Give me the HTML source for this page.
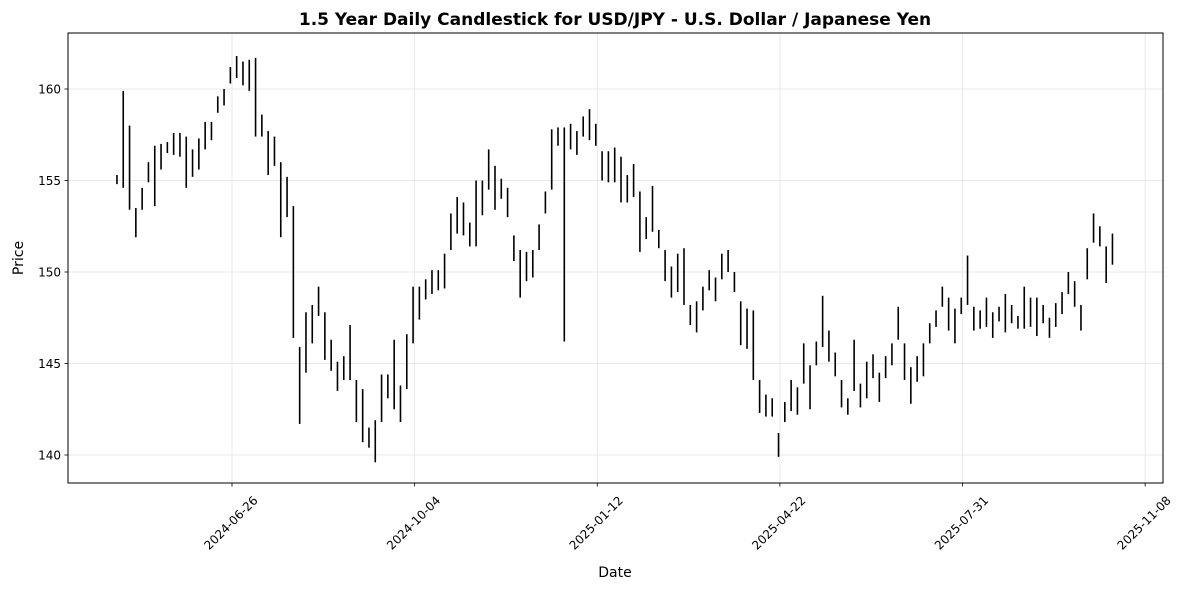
<!DOCTYPE html>
<html><head><meta charset="utf-8"><style>
body{margin:0;background:#fff;font-family:"Liberation Sans","DejaVu Sans",sans-serif}
svg text{font-family:"DejaVu Sans","Liberation Sans",sans-serif}
</style></head><body>
<svg id="chart" width="1187" height="590" viewBox="0 0 1187 590" xmlns="http://www.w3.org/2000/svg">
<rect width="1187" height="590" fill="#fff"/>
<g id="grid"></g>
<g id="candles"></g>
<rect x="68" y="33" width="1095" height="450" fill="none" stroke="#000" stroke-width="1"/>
<g id="axes"></g>
<text x="615" y="25" text-anchor="middle" font-size="17" font-weight="bold">1.5 Year Daily Candlestick for USD/JPY - U.S. Dollar / Japanese Yen</text>
<text x="615" y="577" text-anchor="middle" font-size="14">Date</text>
<text x="23" y="258" text-anchor="middle" font-size="14" transform="rotate(-90 23 258)">Price</text>
</svg>
<script>
const highs=[155.3,159.9,158.0,153.5,154.6,156.0,156.9,157.0,157.1,157.6,157.6,157.4,156.7,157.3,158.2,158.2,159.6,160.0,161.2,161.8,161.5,161.6,161.7,158.6,157.7,157.4,156.0,155.2,153.6,145.9,147.8,148.2,149.2,147.8,146.3,145.1,145.4,147.1,144.1,143.6,141.5,141.9,144.4,144.4,146.3,143.8,146.6,149.2,149.2,149.6,150.1,150.1,151.0,153.2,154.1,153.8,152.7,155.0,155.0,156.7,155.8,155.1,154.6,152.0,151.2,151.1,151.2,152.6,154.4,157.8,157.9,157.9,158.1,157.7,158.5,158.9,158.1,156.6,156.6,156.8,156.3,155.3,155.9,154.4,153.0,154.7,152.3,151.2,150.3,151.0,151.3,148.2,148.4,149.2,150.1,149.7,151.0,151.2,150.0,148.4,148.0,147.9,144.1,143.3,143.1,141.2,142.9,144.1,143.7,146.1,144.9,146.2,148.7,146.8,145.6,144.1,143.1,146.3,143.9,145.1,145.5,144.5,145.4,146.1,148.1,146.1,144.8,145.4,146.1,147.2,147.9,149.2,148.6,148.0,148.6,150.9,148.1,147.9,148.6,147.8,148.1,148.8,148.2,147.6,149.2,148.6,148.6,148.2,147.5,148.3,148.9,150.0,149.5,148.2,151.3,153.2,152.5,151.4,152.1];
const lows=[154.8,154.6,153.4,151.9,153.4,154.9,153.6,155.6,156.5,156.4,156.3,154.6,155.2,155.6,156.7,157.2,158.7,159.1,160.3,160.6,160.2,159.9,157.4,157.4,155.3,155.8,151.9,153.0,146.4,141.7,144.5,146.1,147.6,145.2,144.6,143.5,144.1,144.1,141.8,140.7,140.4,139.6,141.8,143.1,142.5,141.8,143.6,146.1,147.4,148.5,148.8,149.0,149.1,151.2,152.1,152.0,151.4,151.4,153.1,154.5,153.4,154.0,153.0,150.6,148.6,149.5,149.7,151.2,153.2,154.5,156.9,146.2,156.7,156.4,157.4,157.2,156.9,155.0,154.9,154.9,153.8,153.8,154.1,151.1,151.8,152.2,151.3,149.5,148.6,148.9,148.2,147.1,146.7,147.9,149.0,148.4,149.6,150.0,148.9,146.0,145.8,144.1,142.3,142.1,142.1,139.9,141.8,142.4,142.2,143.9,142.5,144.9,145.9,145.1,144.3,142.6,142.2,143.5,142.6,143.1,144.2,142.9,144.2,144.9,146.3,144.1,142.8,144.0,144.3,146.1,147.0,148.1,146.8,146.1,147.7,148.2,146.8,146.9,147.0,146.4,147.3,146.7,147.2,146.9,146.9,147.0,146.5,147.2,146.4,147.0,147.7,148.8,148.1,146.8,149.6,151.6,151.4,149.4,150.4];
const startDate="2024-04-24", stepDays=3.45;
const yTicks=[140,145,150,155,160];
const xTickLabels=["2024-06-26","2024-10-04","2025-01-12","2025-04-22","2025-07-31","2025-11-08"];

const NS="http://www.w3.org/2000/svg";
const ref=Date.parse("2024-06-26");
function xScale(ms){return 232+((ms-ref)/86400000)*1.8263;}
function yScale(p){return 89+(160-p)*18.3;}
function mk(tag,attrs,parent){const e=document.createElementNS(NS,tag);for(const k in attrs)e.setAttribute(k,attrs[k]);parent.appendChild(e);return e;}
const grid=document.getElementById('grid'),axes=document.getElementById('axes'),cg=document.getElementById('candles');
yTicks.forEach(v=>{const y=yScale(v);
 const g=mk('line',{x1:68,x2:1163,y1:y,y2:y,stroke:'#e3e3e3','stroke-width':0.8},grid);
 
 
 const t=mk('line',{x1:64.5,x2:68,y1:y,y2:y,stroke:'#000','stroke-width':0.8},axes);
 
 
 const l=mk('text',{x:61,y:y+4.5,'text-anchor':'end','font-size':12},axes);l.textContent=v;
 
 
});
xTickLabels.forEach(d=>{const x=xScale(Date.parse(d));
 const g=mk('line',{x1:x,x2:x,y1:33,y2:483,stroke:'#e3e3e3','stroke-width':0.8},grid);
 
 
 const t=mk('line',{x1:x,x2:x,y1:483,y2:486.5,stroke:'#000','stroke-width':0.8},axes);
 
 
 const cx=x-1,cy=523;
 const l=mk('text',{x:cx,y:cy+4,'text-anchor':'middle','font-size':12,transform:`rotate(-45 ${cx} ${cy})`},axes);l.textContent=d;
 
 
});
const s0=Date.parse(startDate);
highs.forEach((h,i)=>{const lo=lows[i];const x=xScale(s0+i*stepDays*86400000);
 const y1=yScale(h),y2=yScale(lo);
 const r=mk('rect',{x:x-0.8,y:y1,width:1.6,height:Math.max(1,y2-y1),fill:'#000'},cg);
 
 
});
</script>
</body></html>
